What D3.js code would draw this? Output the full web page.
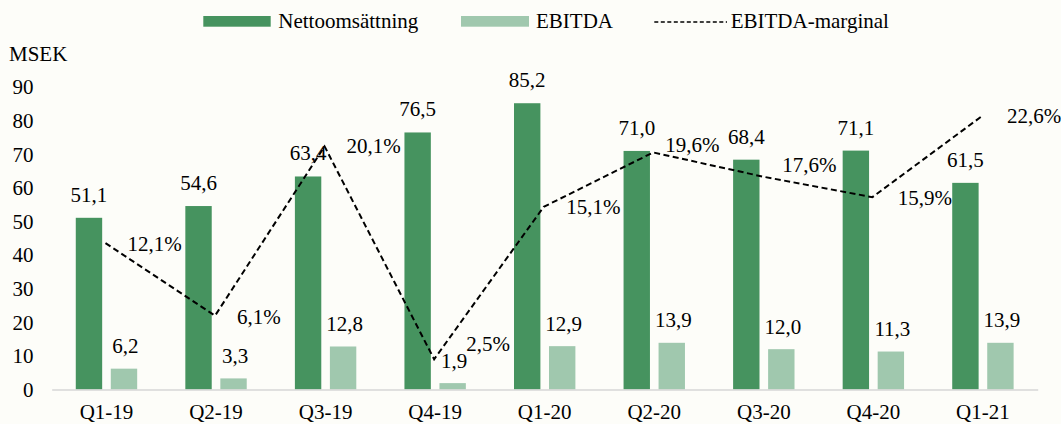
<!DOCTYPE html>
<html>
<head>
<meta charset="utf-8">
<script src="https://cdn.jsdelivr.net/npm/d3@7"></script>
</head>
<body style="margin:0; padding:0; background:#fdfdf9;">
<svg id="chart" width="1061" height="424" style="display:block; background:#fdfdf9;"></svg>
<script>
const categories = ["Q1-19","Q2-19","Q3-19","Q4-19","Q1-20","Q2-20","Q3-20","Q4-20","Q1-21"];
const nettoomsattning = [51.1, 54.6, 63.4, 76.5, 85.2, 71.0, 68.4, 71.1, 61.5];
const ebitda = [6.2, 3.3, 12.8, 1.9, 12.9, 13.9, 12.0, 11.3, 13.9];
const ebitdaMarginal = [12.1, 6.1, 20.1, 2.5, 15.1, 19.6, 17.6, 15.9, 22.6];
const yTicks = [0, 10, 20, 30, 40, 50, 60, 70, 80, 90];
const seriesNames = ["Nettoomsättning", "EBITDA", "EBITDA-marginal"];

const fmt = v => d3.format(".1f")(v).replace(".", ",");
const colDark = "#46935f";
const colLight = "#a0c8ae";

const svg = d3.select("#chart");
function txt(sel) {
  return sel.attr("font-family", "Liberation Serif")
    .style("font-family", '"Liberation Serif"').style("font-size", "21px").style("fill", "#000");
}

const x = d3.scaleBand().domain(categories).range([51.7, 1037.7]).padding(0);
const xInner = d3.scaleBand().domain(["net", "ebitda"])
  .range([x.bandwidth() / 2 - 30.7, x.bandwidth() / 2 + 30.7]).paddingInner(0.246);
const y = d3.scaleLinear().domain([0, 90]).range([389.5, 87.1]);
const y2 = d3.scaleLinear().domain([0, 25]).range([389.5, 87.1]);

// y axis labels
const yAxis = d3.axisLeft(y).tickValues(yTicks).tickSize(0).tickPadding(0).tickFormat(d3.format("d"));
const gy = svg.append("g").attr("transform", "translate(33.5,0)").call(yAxis);
gy.attr("font-family", null).attr("font-size", null);
gy.select(".domain").remove();
txt(gy.selectAll("text"));

txt(svg.append("text").attr("x", 9).attr("y", 60.5).text("MSEK"));

// bars
const g = svg.append("g");
categories.forEach((c, i) => {
  const bx = x(c);
  g.append("rect").attr("x", bx + xInner("net")).attr("width", xInner.bandwidth())
    .attr("y", y(nettoomsattning[i])).attr("height", y(0) - y(nettoomsattning[i])).attr("fill", colDark);
  g.append("rect").attr("x", bx + xInner("ebitda")).attr("width", xInner.bandwidth())
    .attr("y", y(ebitda[i])).attr("height", y(0) - y(ebitda[i])).attr("fill", colLight);
  txt(g.append("text").attr("x", bx + xInner("net") + xInner.bandwidth() / 2).attr("y", y(nettoomsattning[i]) - 16)
    .attr("text-anchor", "middle").text(fmt(nettoomsattning[i])));
  txt(g.append("text").attr("x", bx + xInner("ebitda") + xInner.bandwidth() / 2 + 1.5).attr("y", y(ebitda[i]) - 15.5)
    .attr("text-anchor", "middle").text(fmt(ebitda[i])));
});

// x axis
const xAxis = d3.axisBottom(x).tickSize(0).tickPadding(0);
const gx = svg.append("g").attr("transform", `translate(0,${y(0)})`).call(xAxis);
gx.attr("font-family", null).attr("font-size", null);
gx.select(".domain").attr("stroke", "#d6d6d6").attr("stroke-width", 1.5);
txt(gx.selectAll("text")).attr("dy", 0).attr("y", 29.5);

// margin line
const px = i => x(categories[i]) + x.bandwidth() / 2 - 1;
const line = d3.line().x((d, i) => px(i)).y(d => y2(d));
svg.append("path").datum(ebitdaMarginal).attr("d", line).attr("fill", "none")
  .attr("stroke", "#000").attr("stroke-width", 2).attr("stroke-dasharray", "6,3.5");

// margin labels: placed right of each point (manual tweaks as in the original)
const labelShift = [[22, 7.5], [22, 8.5], [22, 6.6], [32, -8.6], [22.6, 7.2], [12, 0], [19.5, -5], [25.5, 8], [25, 6.6]];
ebitdaMarginal.forEach((v, i) => {
  const [dx, dy] = labelShift[i];
  txt(svg.append("text").attr("x", px(i) + dx).attr("y", y2(v) + dy).text(fmt(v) + "%"));
});

// legend
const lg = svg.append("g");
lg.append("rect").attr("x", 203.3).attr("y", 16).attr("width", 67.4).attr("height", 10.7).attr("fill", colDark);
txt(lg.append("text").attr("x", 278.3).attr("y", 28.3).text(seriesNames[0]));
lg.append("rect").attr("x", 461).attr("y", 16).attr("width", 68).attr("height", 10.7).attr("fill", colLight);
txt(lg.append("text").attr("x", 536).attr("y", 28.3).text(seriesNames[1]));
lg.append("line").attr("x1", 654.3).attr("x2", 727).attr("y1", 22).attr("y2", 22)
  .attr("stroke", "#000").attr("stroke-width", 1.5).attr("stroke-dasharray", "4,2.5");
txt(lg.append("text").attr("x", 730.7).attr("y", 28.3).text(seriesNames[2]));
</script>
</body>
</html>
